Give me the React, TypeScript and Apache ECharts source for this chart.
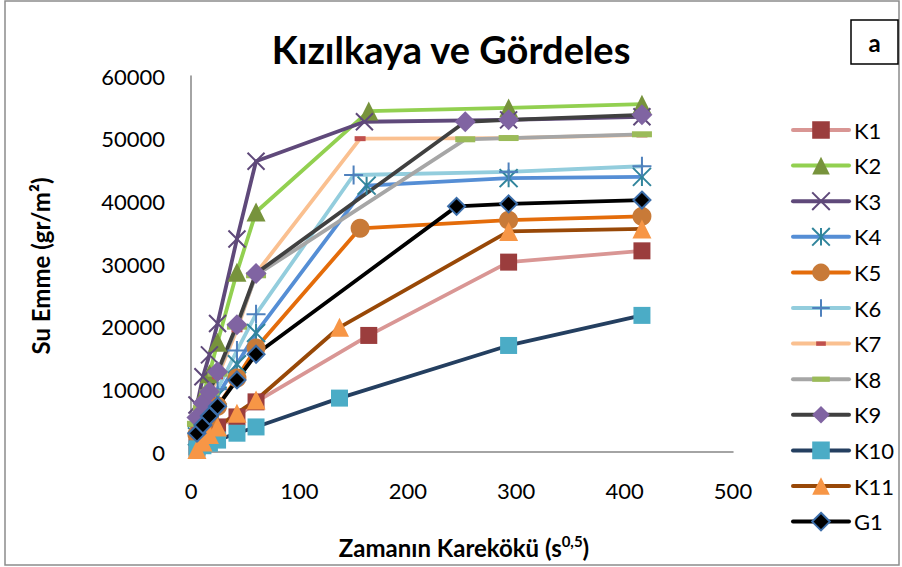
import React, { useEffect, useRef } from "react";
import * as echarts from "echarts";

// x values (square root of time, s^0.5)
const earlyX = [5.5, 11, 17, 24.5, 42.4, 60];
const k1X = [...earlyX, 164, 293, 416];
const k2X = [...earlyX, 164, 293, 416];
const k3X = [...earlyX, 160, 293, 416];
const k4X = [...earlyX, 162, 293, 416];
const k5X = [...earlyX, 156, 293, 416];
const k6X = [...earlyX, 150, 293, 416];
const k7X = [...earlyX, 156, 293, 416];
const k8X = [...earlyX, 253, 293, 416];
const k9X = [...earlyX, 253, 293, 416];
const k10X = [...earlyX, 137, 293, 416];
const k11X = [...earlyX, 137, 293, 416];
const g1X = [...earlyX, 245, 293, 416];

// water absorption values (gr/m2)
const k1Y = [800, 1600, 2800, 4000, 5600, 8000, 18600, 30300, 32100];
const k2Y = [5500, 9000, 12500, 17500, 28700, 38300, 54400, 54900, 55500];
const k3Y = [7500, 12000, 15500, 20500, 34000, 46400, 52700, 53000, 53500];
const k4Y = [2500, 4500, 6500, 9000, 14000, 19000, 42500, 43700, 43900];
const k5Y = [2800, 4000, 5500, 7300, 11800, 16600, 35700, 37000, 37600];
const k6Y = [3000, 5000, 7500, 10000, 16200, 22000, 44200, 44700, 45600];
const k7Y = [4000, 6500, 9000, 12000, 19500, 28500, 50000, 50100, 50600];
const k8Y = [4500, 7000, 9500, 12500, 20000, 28200, 49900, 50100, 50700];
const k9Y = [5500, 7800, 9600, 12800, 20300, 28500, 52700, 53000, 53800];
const k10Y = [500, 1000, 1400, 1900, 3000, 4000, 8600, 17000, 21800];
const k11Y = [400, 1600, 2800, 4000, 6200, 8300, 19900, 35200, 35600];
const g1Y = [3000, 4300, 5750, 7300, 11500, 15600, 39200, 39600, 40200];

const xTicks = [0, 100, 200, 300, 400, 500];
const yTicks = [0, 10000, 20000, 30000, 40000, 50000, 60000];

const FONT = "Lato, 'Open Sans', sans-serif";

const X_PATH = "path://M0,0L20,20M20,0L0,20";
const STAR_PATH = "path://M0,0L20,20M20,0L0,20M10,0L10,20";
const PLUS_PATH = "path://M10,0L10,20M0,10L20,10";
const K7_PATH = "path://M0,0M20,20M4.5,7.5L15.5,7.5L15.5,12.5L4.5,12.5Z";
const K8_PATH = "path://M0,0M20,20M0,7L20,7L20,13L0,13Z";

function mk(
  name: string,
  xs: number[],
  ys: number[],
  lineColor: string,
  symbol: string,
  symbolSize: number,
  itemStyle: any
) {
  return {
    type: "line",
    name,
    data: xs.map((x, i) => [x, ys[i]]),
    symbol,
    symbolSize,
    showAllSymbol: true,
    clip: false,
    lineStyle: { color: lineColor, width: 3.8, cap: "round", join: "round" },
    itemStyle,
    emphasis: { disabled: true },
  };
}

export default function App() {
  const ref = useRef<HTMLDivElement>(null);
  useEffect(() => {
    if (!ref.current) return;
    const chart = echarts.init(ref.current, undefined, { renderer: "svg" });
    const series = [
      mk("K1", k1X, k1Y, "#D99694", "rect", 17, { color: "#9B3D3D" }),
      mk("K2", k2X, k2Y, "#92D050", "triangle", 19, { color: "#77933C" }),
      mk("K3", k3X, k3Y, "#5F497A", X_PATH, 17, { color: "#5F497A", borderColor: "#5F497A", borderWidth: 2 }),
      mk("K4", k4X, k4Y, "#558ED5", STAR_PATH, 18, { color: "#31859C", borderColor: "#31859C", borderWidth: 2 }),
      mk("K5", k5X, k5Y, "#E46C0A", "circle", 19, { color: "#C87A38" }),
      mk("K6", k6X, k6Y, "#93CDDD", PLUS_PATH, 19, { color: "#4F81BD", borderColor: "#4F81BD", borderWidth: 2 }),
      mk("K7", k7X, k7Y, "#FAC090", K7_PATH, 20, { color: "#C0504D" }),
      mk("K8", k8X, k8Y, "#A6A6A6", K8_PATH, 20, { color: "#9BBB59" }),
      mk("K9", k9X, k9Y, "#404040", "diamond", 21, { color: "#8064A2" }),
      mk("K10", k10X, k10Y, "#243F60", "rect", 17, { color: "#4BACC6" }),
      mk("K11", k11X, k11Y, "#984807", "triangle", 19, { color: "#F79646" }),
      mk("G1", g1X, g1Y, "#000000", "diamond", 17, { color: "#000000", borderColor: "#3C6EAA", borderWidth: 2 }),
    ];
    chart.setOption({
      animation: false,
      backgroundColor: "#ffffff",
      title: {
        text: "Kızılkaya ve Gördeles",
        left: "center",
        top: 25,
        textStyle: { fontFamily: FONT, fontSize: 38, fontWeight: "bold", color: "#000" },
      },
      grid: { left: 191, top: 76, right: 169, bottom: 115, containLabel: false },
      xAxis: {
        type: "value",
        min: xTicks[0],
        max: xTicks[xTicks.length - 1],
        interval: 100,
        axisLine: { lineStyle: { color: "#868686", width: 1.5 } },
        axisTick: { show: false },
        splitLine: { show: false },
        axisLabel: { fontFamily: FONT, fontSize: 22, color: "#000", margin: 27, formatter: (v: number) => String(v) },
      },
      yAxis: {
        type: "value",
        min: yTicks[0],
        max: yTicks[yTicks.length - 1],
        interval: 10000,
        axisLine: { show: true, lineStyle: { color: "#868686", width: 1.5 } },
        axisTick: { show: false },
        splitLine: { show: false },
        axisLabel: { fontFamily: FONT, fontSize: 22, color: "#000", margin: 26, formatter: (v: number) => String(v) },
      },
      legend: {
        orient: "vertical",
        left: 791,
        top: 119,
        itemWidth: 56,
        itemHeight: 22,
        itemGap: 13.6,
        padding: 0,
        selectedMode: false,
        textStyle: { fontFamily: FONT, fontSize: 22, color: "#000" },
        lineStyle: { width: 4, cap: "round" },
        data: series.map((s) => s.name),
      },
      graphic: [
        {
          type: "rect",
          shape: { x: 5, y: 1, width: 894, height: 564 },
          style: { fill: "none", stroke: "#8C8C8C", lineWidth: 1.5 },
          silent: true,
        },
        {
          type: "rect",
          shape: { x: 851, y: 20, width: 47, height: 44 },
          style: { fill: "#fff", stroke: "#000", lineWidth: 1.5 },
          silent: true,
        },
        {
          type: "text",
          x: 874.5,
          y: 42,
          style: {
            text: "a",
            fontFamily: FONT,
            fontSize: 24,
            fontWeight: "bold",
            fill: "#000",
            align: "center",
            verticalAlign: "middle",
          },
          silent: true,
        },
        {
          type: "text",
          x: 40,
          y: 266,
          rotation: Math.PI / 2,
          style: {
            text: "Su Emme (gr/m²)",
            fontFamily: FONT,
            fontSize: 24,
            fontWeight: "bold",
            fill: "#000",
            align: "center",
            verticalAlign: "middle",
          },
          silent: true,
        },
        {
          type: "text",
          x: 464,
          y: 547,
          style: {
            text: "{b|Zamanın Karekökü (s}{s|0,5}{b|)}",
            align: "center",
            verticalAlign: "middle",
            rich: {
              b: { fontFamily: FONT, fontSize: 24, fontWeight: "bold", fill: "#000", lineHeight: 28 },
              s: { fontFamily: FONT, fontSize: 15, fontWeight: "bold", fill: "#000", lineHeight: 16, verticalAlign: "top" },
            },
          },
          silent: true,
        },
      ],
      series,
    });
    return () => chart.dispose();
  }, []);
  return (
    <div
      ref={ref}
      style={{ position: "fixed", left: 0, top: 0, width: 902, height: 567, background: "#fff" }}
    />
  );
}
